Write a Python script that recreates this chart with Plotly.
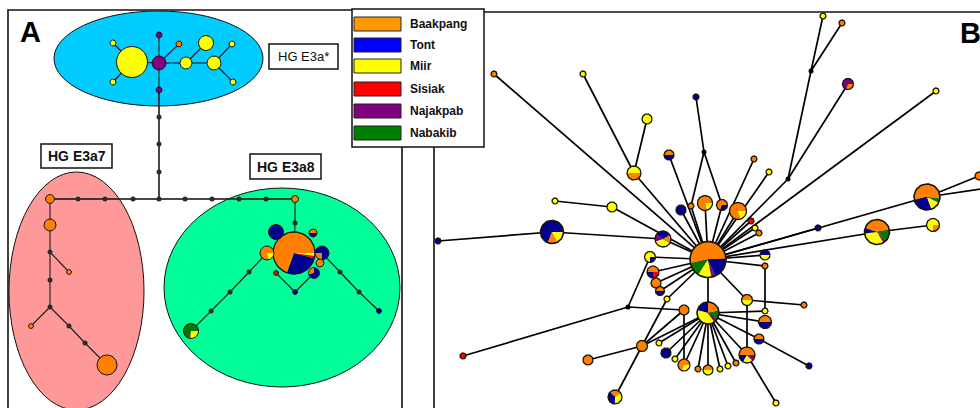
import math
import plotly.graph_objects as go

# ---------------------------------------------------------------------------
# Population groups
# ---------------------------------------------------------------------------
GROUPS = ["Baakpang", "Tont", "Miir", "Sisiak", "Najakpab", "Nabakib"]
GROUP_KEYS = ["O", "N", "Y", "R", "P", "G"]
LEGEND_COLORS = ["#FF9900", "#0000FF", "#FFFF00", "#FF0000", "#800080", "#008000"]
SLICE_COLORS = ["#FF8000", "#000090", "#FFFF00", "#FF0000", "#800080", "#007A00"]
SLICE_OF = dict(zip(GROUP_KEYS, SLICE_COLORS))

# ---------------------------------------------------------------------------
# Haplotypes: (id, x, y, radius, population mix, start angle of first slice)
# mix None -> median vector (unsampled intermediate)
# ---------------------------------------------------------------------------
E3A_STAR = [
    ("s_big", 132, 62, 15.5, "Y", 0),
    ("s_hub", 159, 63, 7, "P", 0),
    ("s_p1", 159, 35, 3, "P", 0),
    ("s_p2", 159, 90, 3, "P", 0),
    ("s_y1", 113, 43, 3, "Y", 0),
    ("s_y2", 113, 82, 3, "Y", 0),
    ("s_o1", 179, 44, 3, "O", 0),
    ("s_y3", 186, 63, 6, "Y", 0),
    ("s_y4", 206, 43, 7.5, "Y", 0),
    ("s_y5", 214, 63, 7, "Y", 0),
    ("s_y6", 232, 44, 3, "Y", 0),
    ("s_y7", 233, 82, 3, "Y", 0),
]
E3A_STAR_LINKS = [("s_big", "s_hub"), ("s_hub", "s_p1"), ("s_hub", "s_p2"),
                  ("s_big", "s_y1"), ("s_big", "s_y2"), ("s_hub", "s_o1"),
                  ("s_hub", "s_y3"), ("s_y3", "s_y4"), ("s_y3", "s_y5"),
                  ("s_y5", "s_y6"), ("s_y5", "s_y7")]

CONNECTOR = [
    ("c1", 159, 117, 2.5, None, 0), ("c2", 159, 144, 2.5, None, 0),
    ("c3", 159, 172, 2.5, None, 0), ("c0", 159, 199, 2.5, None, 0),
    ("h1", 78, 199, 2.5, None, 0), ("h2", 105, 199, 2.5, None, 0),
    ("h3", 133, 199, 2.5, None, 0), ("h4", 185, 199, 2.5, None, 0),
    ("h5", 212, 199, 2.5, None, 0), ("h6", 239, 199, 2.5, None, 0),
    ("h7", 266, 199, 2.5, None, 0),
]
CONNECTOR_LINKS = [("s_p2", "c1"), ("c1", "c2"), ("c2", "c3"), ("c3", "c0"),
                   ("c0", "h3"), ("h3", "h2"), ("h2", "h1"), ("h1", "a_o1"),
                   ("c0", "h4"), ("h4", "h5"), ("h5", "h6"), ("h6", "h7"),
                   ("h7", "g_o1")]

E3A7 = [
    ("a_o1", 50, 199, 4.5, "O", 0),
    ("a_o2", 50, 225, 6, "O", 0),
    ("a_j1", 50, 252, 2.5, None, 0),
    ("a_o3", 69, 272, 2.5, "O", 0),
    ("a_j2", 50, 280, 2.5, None, 0),
    ("a_j3", 50, 307, 2.5, None, 0),
    ("a_o4", 31, 326, 2.5, "O", 0),
    ("a_j4", 69, 326, 2.5, None, 0),
    ("a_j5", 85, 343, 2.5, None, 0),
    ("a_o5", 107, 365, 10, "O", 0),
]
E3A7_LINKS = [("a_o1", "a_o2"), ("a_o2", "a_j1"), ("a_j1", "a_o3"),
              ("a_j1", "a_j2"), ("a_j2", "a_j3"), ("a_j3", "a_o4"),
              ("a_j3", "a_j4"), ("a_j4", "a_j5"), ("a_j5", "a_o5")]

E3A8 = [
    ("g_o1", 295, 199, 3.5, "O", 0),
    ("g_j1", 295, 223, 2.5, None, 0),
    ("g_big", 294, 253, 21, "N:.264 R:.02 Y:.022 O:.694", 250),
    ("g_n1", 276, 232, 7.5, "N", 0),
    ("g_on1", 313, 233, 4, "O:.5 N:.5", 0),
    ("g_oy", 267, 253, 7, "O:.8 Y:.2", 0),
    ("g_no", 322, 253, 7, "N:.75 O:.25", 270),
    ("g_o2", 320, 263, 4, "O", 0),
    ("g_r", 276, 273, 2.5, "R", 0),
    ("g_on2", 314, 273, 5.5, "O:.3 N:.7", 90),
    ("g_n2", 295, 292, 2.5, "N", 0),
    ("g_j2", 249, 272, 2.5, None, 0),
    ("g_j3", 230, 292, 2.5, None, 0),
    ("g_j4", 211, 311, 2.5, None, 0),
    ("g_g", 191, 331, 7.5, "G:.72 O:.03 Y:.25", 0),
    ("g_j5", 340, 272, 2.5, None, 0),
    ("g_j6", 359, 292, 2.5, None, 0),
    ("g_n3", 379, 311, 2.5, "N", 0),
]
E3A8_LINKS = [("g_o1", "g_j1"), ("g_j1", "g_big"), ("g_r", "g_n2"),
              ("g_n2", "g_on2"), ("g_oy", "g_j2"), ("g_j2", "g_j3"),
              ("g_j3", "g_j4"), ("g_j4", "g_g"), ("g_no", "g_j5"),
              ("g_j5", "g_j6"), ("g_j6", "g_n3")]

NETWORK_B = [
    ("H1", 708, 259.5, 18, "O:.53 G:.125 Y:.12 P:.035 N:.19", 2),
    ("H2", 708, 313, 11, "N:.21 Y:.39 P:.055 G:.14 O:.205", 90),
    ("b1", 494, 74, 3, "O", 0),
    ("b2", 583, 74, 3, "Y", 0),
    ("b3", 647, 119, 5, "Y", 0),
    ("b4", 634, 173, 7, "Y:.5 O:.5", 0),
    ("b5", 669, 155, 5, "O:.5 N:.5", 0),
    ("b6", 696, 97, 3, "N", 0),
    ("j1", 704, 152, 2.5, None, 0),
    ("b7", 691, 206, 3, "O", 0),
    ("b8", 681, 210, 5, "N", 0),
    ("b9", 705, 203, 7.5, "O:.8 Y:.2", 0),
    ("b10", 722, 205, 5.5, "O:.7 N:.3", 0),
    ("b11", 738, 211, 8.5, "O:.8 Y:.2", 0),
    ("b12", 754, 159, 3, "O", 0),
    ("b13", 769, 172, 3, "Y", 0),
    ("j2", 788, 179, 2.5, None, 0),
    ("j3", 811, 71, 2.5, None, 0),
    ("b14", 823, 16, 3, "Y", 0),
    ("b15", 842, 23, 3, "O", 0),
    ("b16", 848, 84, 5.5, "P:.7 O:.3", 0),
    ("b17", 936, 91, 3, "Y", 0),
    ("b18", 751, 221, 3, "R", 0),
    ("b19", 755, 228, 3, "Y", 0),
    ("b20", 759, 233, 3, "O", 0),
    ("b21", 765, 255, 5, "N:.5 Y:.5", 0),
    ("b22", 765, 266, 3, "O", 0),
    ("b23", 765, 311, 3, "Y", 0),
    ("b24", 765, 322, 6.5, "O:.5 N:.5", 0),
    ("b25", 927, 197, 13, "O:.55 N:.27 Y:.12 G:.06", -5),
    ("b26", 979, 176, 4, "O", 0),
    ("bx", 995, 187, 0, None, 0),
    ("b27", 818, 228, 3, "N", 0),
    ("b28", 877, 232, 12.5, "O:.42 N:.07 Y:.32 P:.04 G:.15", 10),
    ("b29", 933, 225, 6.5, "Y:.75 O:.25", 0),
    ("b30", 804, 305, 3, "O", 0),
    ("b31", 747, 300, 5.5, "O:.5 Y:.5", 0),
    ("b32", 747, 355, 8, "O:.5 N:.17 Y:.2 P:.13", 0),
    ("b33", 759, 339, 5, "O:.5 N:.5", 0),
    ("b34", 809, 366, 3, "N", 0),
    ("b35", 776, 403, 3, "Y", 0),
    ("b36", 555, 201, 3, "Y", 0),
    ("b37", 612, 207, 5, "Y", 0),
    ("b38", 438, 241, 3, "N", 0),
    ("b39", 552, 232, 11.5, "N:.69 O:.14 Y:.17", 0),
    ("b40", 663, 239, 8, "N:.33 P:.14 Y:.36 O:.17", 30),
    ("b41", 650, 257, 5.5, "Y:.75 N:.25", 0),
    ("b42", 653, 272, 6, "O:.5 N:.25 R:.25", 0),
    ("b43", 656, 283, 5, "O", 0),
    ("b44", 660, 291, 4.5, "O:.5 N:.5", 0),
    ("b45", 667, 299, 3, "Y", 0),
    ("j4", 628, 307, 2.5, None, 0),
    ("b46", 463, 356, 3, "R", 0),
    ("b47", 684, 310, 5, "O", 0),
    ("b48", 642, 346, 5.5, "O", 0),
    ("b49", 588, 360, 5, "O", 0),
    ("b50", 615, 397, 7, "O:.29 N:.375 Y:.335", 30),
    ("b51", 659, 343, 3, "Y", 0),
    ("b52", 666, 353, 5, "N", 0),
    ("b53", 675, 359, 3, "Y", 0),
    ("b54", 684, 365, 6, "O:.7 Y:.3", 0),
    ("b55", 698, 369, 3, "O", 0),
    ("b56", 708, 370, 5, "O:.5 Y:.5", 0),
    ("b57", 720, 369, 3, "Y", 0),
    ("b58", 728, 366, 3, "Y", 0),
    ("b59", 736, 363, 3, "O", 0),
]
NETWORK_B_LINKS = [
    ("H1", "H2"), ("b1", "H1"), ("b2", "b4"), ("b3", "b4"), ("b4", "H1"),
    ("b5", "H1"), ("b6", "j1"), ("j1", "b7"), ("j1", "b10"), ("b7", "H1"),
    ("b8", "H1"), ("b9", "H1"), ("b10", "H1"), ("b11", "H1"), ("b12", "H1"),
    ("b13", "H1"), ("j2", "H1"), ("j2", "j3"), ("j3", "b14"), ("j3", "b15"),
    ("j2", "b16"), ("b17", "H1"), ("b18", "H1"), ("b19", "H1"), ("b20", "H1"),
    ("b21", "H1"), ("b22", "H1"), ("b22", "b23"), ("b23", "H2"), ("b24", "H2"),
    ("H1", "b25"), ("b25", "b26"), ("b25", "bx"), ("H1", "b27"), ("H1", "b28"),
    ("b28", "b29"), ("b30", "b31"), ("b31", "H1"), ("b31", "b32"),
    ("b32", "H2"), ("b32", "b35"), ("b33", "H2"), ("b33", "b34"),
    ("b36", "b37"), ("b37", "H1"), ("b38", "b39"), ("b39", "b40"),
    ("b40", "H1"), ("b41", "H1"), ("b41", "j4"), ("b42", "H1"), ("b43", "H1"),
    ("b44", "H1"), ("b45", "H1"), ("b45", "b48"), ("j4", "b46"), ("j4", "b47"),
    ("b47", "b54"), ("b47", "b48"), ("b48", "b49"), ("b48", "b50"),
    ("b48", "H2"), ("b51", "H2"), ("b52", "H2"), ("b53", "H2"), ("b54", "H2"),
    ("b55", "H2"), ("b56", "H2"), ("b57", "H2"), ("b58", "H2"), ("b59", "H2"),
]

# Sub-haplogroup labels: (text, centre x, centre y, bold)
CLUSTER_LABELS = [("HG E3a*", 303.5, 56.5, False),
                  ("HG E3a7", 76.5, 156, True),
                  ("HG E3a8", 285.5, 166.5, True)]
PANEL_LETTERS = [("A", 30, 32), ("B", 970, 33)]

FONT = "Arial, Liberation Sans, sans-serif"


def parse_mix(mix):
    parts = []
    for tok in mix.split():
        if ":" in tok:
            k, v = tok.split(":")
            parts.append((k, float(v)))
        else:
            parts.append((tok, 1.0))
    return parts


def circle_xy(cx, cy, r, n=48):
    xs, ys = [], []
    for i in range(n + 1):
        a = 2 * math.pi * i / n
        xs.append(cx + r * math.cos(a))
        ys.append(cy - r * math.sin(a))
    return xs, ys


def wedge_xy(cx, cy, r, a0, a1):
    n = max(3, int(abs(a1 - a0) / 5) + 2)
    xs, ys = [cx], [cy]
    for i in range(n + 1):
        a = math.radians(a0 + (a1 - a0) * i / n)
        xs.append(cx + r * math.cos(a))
        ys.append(cy - r * math.sin(a))
    xs.append(cx)
    ys.append(cy)
    return xs, ys


fig = go.Figure()

W, H = 980, 408


def add_links(nodes, links, width, color):
    pos = {n[0]: (n[1], n[2]) for n in nodes}
    xs, ys = [], []
    for a, b in links:
        xs += [pos[a][0], pos[b][0], None]
        ys += [pos[a][1], pos[b][1], None]
    fig.add_trace(go.Scatter(x=xs, y=ys, mode="lines",
                             line=dict(color=color, width=width),
                             hoverinfo="skip"))


def add_nodes(nodes, outline, junction_color, ring):
    jx, jy = [], []
    for nid, x, y, r, mix, start in nodes:
        if r <= 0:
            continue
        if mix is None:
            jx.append(x)
            jy.append(y)
            continue
        parts = parse_mix(mix)
        if len(parts) == 1:
            cx, cy = circle_xy(x, y, r)
            fig.add_trace(go.Scatter(x=cx, y=cy, mode="lines", fill="toself",
                                     fillcolor=SLICE_OF[parts[0][0]],
                                     line=dict(color=outline, width=ring),
                                     hoverinfo="skip"))
            continue
        total = sum(v for _, v in parts)
        a = start
        for k, v in parts:
            span = 360 * v / total
            wx, wy = wedge_xy(x, y, r, a, a + span)
            fig.add_trace(go.Scatter(x=wx, y=wy, mode="lines", fill="toself",
                                     fillcolor=SLICE_OF[k],
                                     line=dict(width=0, color=SLICE_OF[k]),
                                     hoverinfo="skip"))
            a += span
        cx, cy = circle_xy(x, y, r)
        fig.add_trace(go.Scatter(x=cx, y=cy, mode="lines",
                                 line=dict(color=outline,
                                           width=ring + (0.3 if r > 10 else 0)),
                                 hoverinfo="skip"))
    if jx:
        fig.add_trace(go.Scatter(x=jx, y=jy, mode="markers",
                                 marker=dict(size=5, color=junction_color,
                                             line=dict(width=0)),
                                 hoverinfo="skip"))


panel_a_nodes = E3A_STAR + CONNECTOR + E3A7 + E3A8

# ---- Panel A: links then haplotypes
add_links(panel_a_nodes, CONNECTOR_LINKS, 1.6, "#1a1a1a")
add_links(panel_a_nodes, E3A_STAR_LINKS + E3A7_LINKS + E3A8_LINKS, 1.1, "#1a1a1a")
add_nodes(panel_a_nodes, "#111111", "#2b2b2b", 1.0)

# ---- Panel B
add_links(NETWORK_B, NETWORK_B_LINKS, 1.7, "#000000")
add_nodes(NETWORK_B, "#1a1400", "#000000", 1.3)

shapes = []
# Panel frames
shapes.append(dict(type="rect", x0=8, y0=10, x1=402, y1=H + 20,
                   line=dict(color="#111", width=1.6), layer="below"))
shapes.append(dict(type="rect", x0=434, y0=12, x1=W + 20, y1=H + 20,
                   line=dict(color="#111", width=1.6), layer="below"))
# Sub-haplogroup ellipses
shapes.append(dict(type="circle", x0=54, y0=11, x1=263, y1=106,
                   fillcolor="#00CCFF", line=dict(color="#111", width=1),
                   layer="below"))
shapes.append(dict(type="circle", x0=9, y0=172, x1=144, y1=410,
                   fillcolor="#FF9999", line=dict(color="#111", width=1),
                   layer="below"))
shapes.append(dict(type="circle", x0=164, y0=188, x1=400, y1=387,
                   fillcolor="#00FF99", line=dict(color="#111", width=1),
                   layer="below"))

annotations = []
label_boxes = {"HG E3a*": (269, 44, 338, 69),
               "HG E3a7": (41, 144, 112, 168),
               "HG E3a8": (250, 154, 321, 179)}
for text, cx, cy, bold in CLUSTER_LABELS:
    x0, y0, x1, y1 = label_boxes[text]
    shapes.append(dict(type="rect", x0=x0, y0=y0, x1=x1, y1=y1,
                       fillcolor="white", line=dict(color="#111", width=1.5),
                       layer="above"))
    annotations.append(dict(x=cx, y=cy, xref="x", yref="y", showarrow=False,
                            text=f"<b>{text}</b>" if bold else text,
                            font=dict(family=FONT, size=14 if bold else 13,
                                      color="#111")))

for letter, x, y in PANEL_LETTERS:
    annotations.append(dict(x=x, y=y, xref="x", yref="y", showarrow=False,
                            text=f"<b>{letter}</b>",
                            font=dict(family=FONT, size=29, color="#000")))

# Legend box
shapes.append(dict(type="rect", x0=352, y0=9, x1=484, y1=147,
                   fillcolor="white", line=dict(color="#111", width=1.5),
                   layer="above"))
row_y = [24, 45, 66, 89, 111, 133]
for name, col, yc in zip(GROUPS, LEGEND_COLORS, row_y):
    shapes.append(dict(type="rect", x0=354, y0=yc - 7, x1=401, y1=yc + 7,
                       fillcolor=col, line=dict(color="#222", width=1),
                       layer="above"))
    annotations.append(dict(x=408, y=yc, xref="x", yref="y", showarrow=False,
                            xanchor="left", text=f"<b>{name}</b>",
                            font=dict(family=FONT, size=12, color="#111")))

fig.update_layout(
    width=W, height=H,
    margin=dict(l=0, r=0, t=0, b=0),
    paper_bgcolor="white", plot_bgcolor="white",
    showlegend=False,
    xaxis=dict(range=[0, W], visible=False, fixedrange=True),
    yaxis=dict(range=[H, 0], visible=False, fixedrange=True),
    shapes=shapes, annotations=annotations,
)

fig.write_html("out.html")
